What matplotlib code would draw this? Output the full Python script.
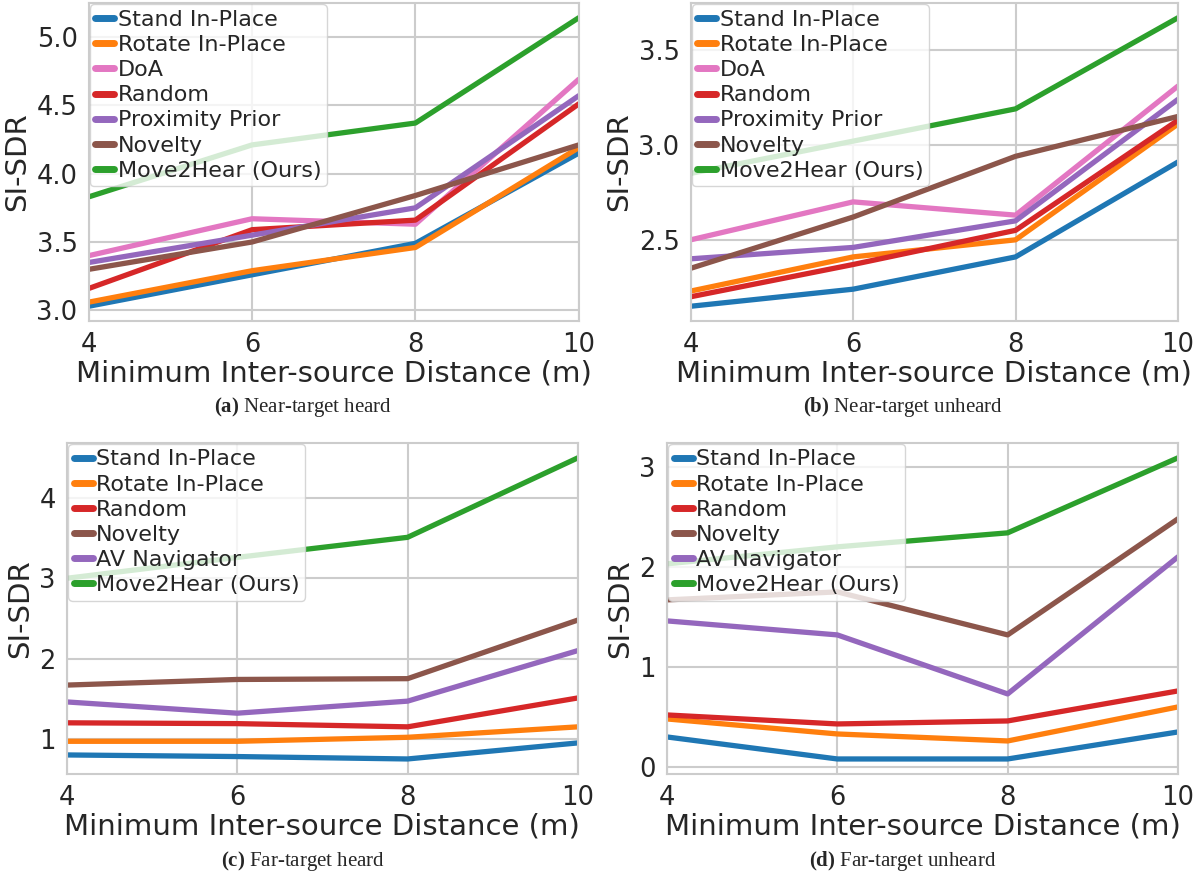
import numpy as np
import matplotlib
matplotlib.use("Agg")
import matplotlib.pyplot as plt
import seaborn as sns

# estilo seaborn (grade branca)
sns.set_theme(style="whitegrid")
plt.rcParams['font.family'] = ['DejaVu Sans']
plt.rcParams['mathtext.fontset'] = 'custom'
plt.rcParams['mathtext.rm'] = 'Liberation Serif'
plt.rcParams['mathtext.bf'] = 'Liberation Serif:bold'
plt.rcParams['grid.linewidth'] = 1.5
plt.rcParams['axes.linewidth'] = 1.5

# dados
distancias = [4, 6, 8, 10]

# (a) near-target heard
a_stand = [3.03, 3.26, 3.49, 4.15]
a_rotate = [3.06, 3.29, 3.46, 4.19]
a_doa = [3.40, 3.67, 3.63, 4.69]
a_random = [3.16, 3.59, 3.66, 4.51]
a_proximity = [3.35, 3.55, 3.75, 4.57]
a_novelty = [3.30, 3.50, 3.84, 4.21]
a_move2hear = [3.83, 4.21, 4.37, 5.14]

# (b) near-target unheard
b_stand = [2.15, 2.24, 2.41, 2.91]
b_rotate = [2.23, 2.41, 2.50, 3.11]
b_doa = [2.50, 2.70, 2.63, 3.31]
b_random = [2.20, 2.37, 2.55, 3.13]
b_proximity = [2.40, 2.46, 2.60, 3.24]
b_novelty = [2.35, 2.62, 2.94, 3.15]
b_move2hear = [2.85, 3.02, 3.19, 3.67]

# (c) far-target heard
c_stand = [0.80, 0.78, 0.75, 0.95]
c_rotate = [0.97, 0.97, 1.02, 1.15]
c_random = [1.20, 1.19, 1.15, 1.51]
c_novelty = [1.67, 1.74, 1.75, 2.48]
c_avnav = [1.46, 1.32, 1.47, 2.10]
c_move2hear = [3.00, 3.26, 3.51, 4.50]

# (d) far-target unheard
d_stand = [0.30, 0.08, 0.08, 0.35]
d_rotate = [0.48, 0.33, 0.26, 0.60]
d_random = [0.52, 0.43, 0.46, 0.76]
d_novelty = [1.67, 1.75, 1.32, 2.48]
d_avnav = [1.46, 1.32, 0.73, 2.10]
d_move2hear = [2.03, 2.20, 2.34, 3.09]

nomes_near = ['Stand In-Place', 'Rotate In-Place', 'DoA', 'Random',
              'Proximity Prior', 'Novelty', 'Move2Hear (Ours)']
cores_near = ['#1f77b4', '#ff7f0e', '#e377c2', '#d62728',
              '#9467bd', '#8c564b', '#2ca02c']
nomes_far = ['Stand In-Place', 'Rotate In-Place', 'Random', 'Novelty',
             'AV Navigator', 'Move2Hear (Ours)']
cores_far = ['#1f77b4', '#ff7f0e', '#d62728', '#8c564b',
             '#9467bd', '#2ca02c']

paineis = [
    ([a_stand, a_rotate, a_doa, a_random, a_proximity, a_novelty, a_move2hear],
     nomes_near, cores_near, [3.0, 3.5, 4.0, 4.5, 5.0], '%.1f'),
    ([b_stand, b_rotate, b_doa, b_random, b_proximity, b_novelty, b_move2hear],
     nomes_near, cores_near, [2.5, 3.0, 3.5], '%.1f'),
    ([c_stand, c_rotate, c_random, c_novelty, c_avnav, c_move2hear],
     nomes_far, cores_far, [1, 2, 3, 4], '%d'),
    ([d_stand, d_rotate, d_random, d_novelty, d_avnav, d_move2hear],
     nomes_far, cores_far, [0, 1, 2, 3], '%d'),
]

legendas = [r'$\mathbf{(a)}$ Near-target heard',
            r'$\mathbf{(b)}$ Near-target unheard',
            r'$\mathbf{(c)}$ Far-target heard',
            r'$\mathbf{(d)}$ Far-target unheard']

posicoes = [
    [0.0738, 0.6335, 0.4077, 0.3627],
    [0.5746, 0.6335, 0.4054, 0.3627],
    [0.0557, 0.1154, 0.4251, 0.3786],
    [0.5549, 0.1154, 0.4251, 0.3786],
]
caption_xy = [(303, 407), (903, 407), (303, 861), (903, 861)]

fig = plt.figure(figsize=(12.02, 8.75), dpi=100)

for i, (series, nomes, cores, yticks, fmt) in enumerate(paineis):
    ax = fig.add_axes(posicoes[i])
    for ys, nome, cor in zip(series, nomes, cores):
        ax.plot(distancias, ys, color=cor, lw=3.8, label=nome)
    ax.set_xlim(4, 10)
    ax.set_xticks(distancias)
    ax.set_yticks(yticks)
    ax.set_yticklabels([fmt % v for v in yticks])
    ax.tick_params(axis='both', labelsize=18.5, pad=2)
    ax.set_xlabel('Minimum Inter-source Distance (m)', fontsize=21, labelpad=1)
    ax.set_ylabel('SI-SDR', fontsize=21, labelpad=4)
    leg = ax.legend(loc='upper left', fontsize=16, labelspacing=0.23,
                    handlelength=0.85, handletextpad=0.15, borderpad=0.25,
                    borderaxespad=0.05, framealpha=0.8)
    for linha in leg.get_lines():
        linha.set_linewidth(5)
        linha.set_solid_capstyle('round')
    cx, cy = caption_xy[i]
    fig.text(cx / 1202, 1 - cy / 875, legendas[i], ha='center', va='center',
             fontsize=15, family='Liberation Serif')

plt.savefig('out.png', dpi=100)
